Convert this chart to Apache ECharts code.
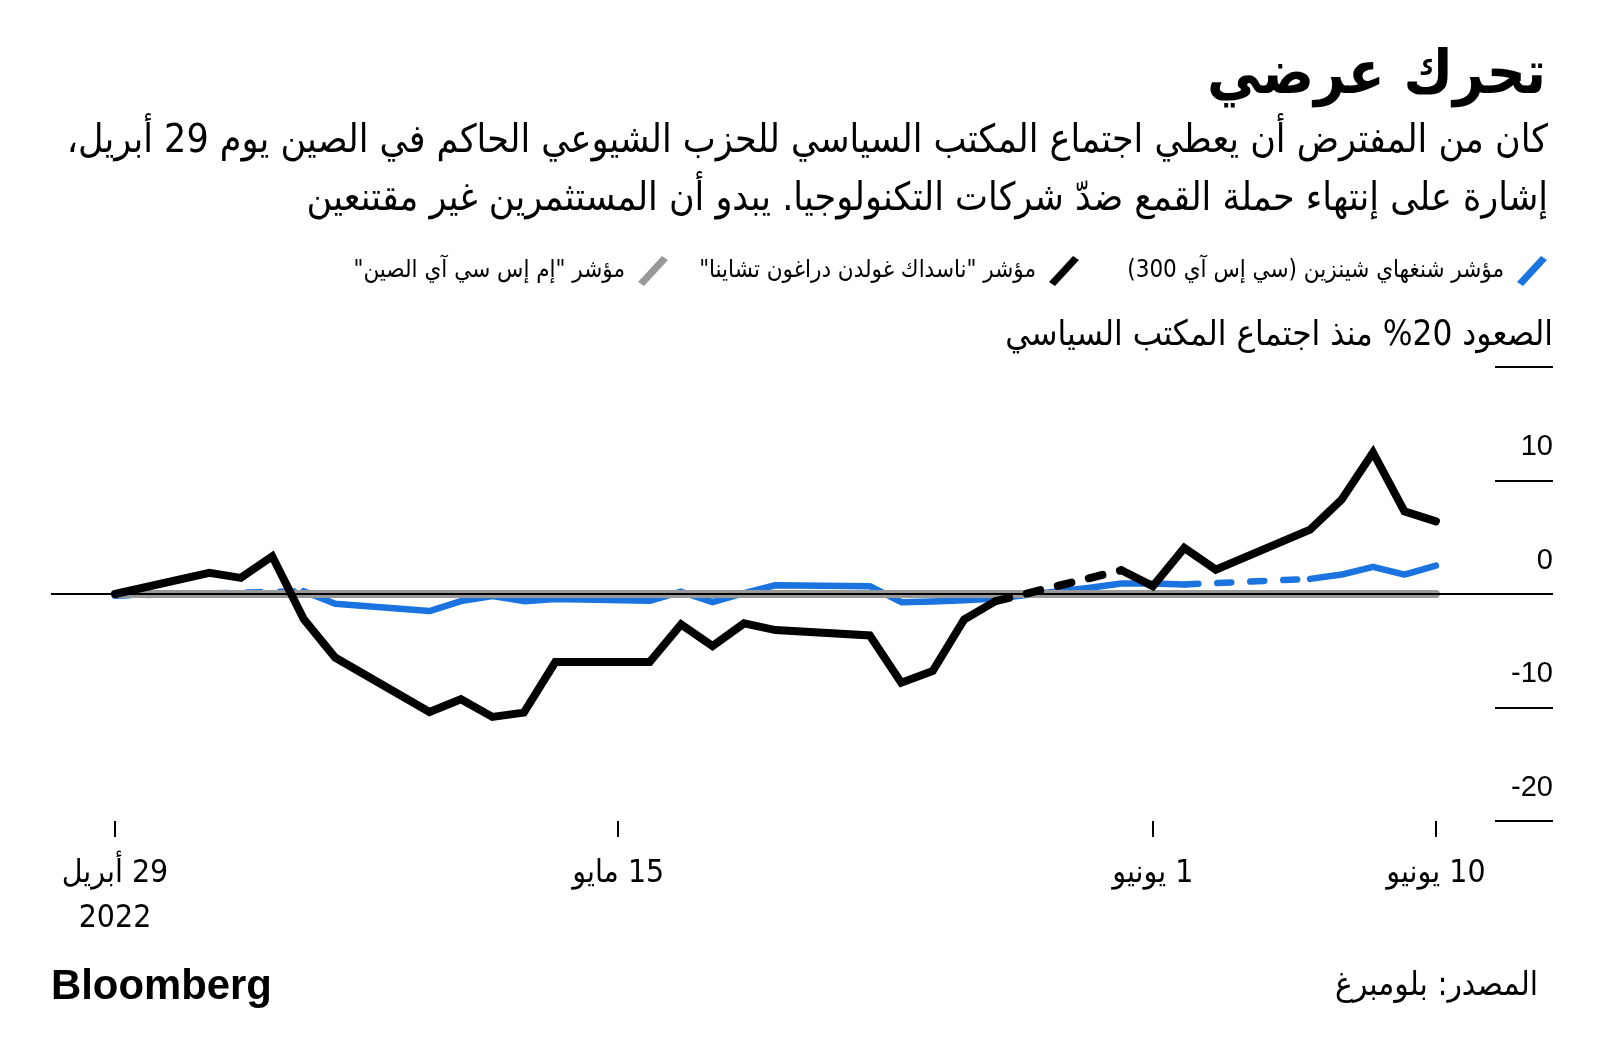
<!DOCTYPE html>
<html><head><meta charset="utf-8">
<script src="https://cdn.jsdelivr.net/npm/echarts@6/dist/echarts.min.js"></script>
<style>html,body{margin:0;padding:0;background:#fff}#c{width:1600px;height:1062px}</style>
</head><body><div id="c"></div><script>
// ---------- data ----------
const usDates = ['2022-04-29','2022-05-02','2022-05-03','2022-05-04','2022-05-05','2022-05-06','2022-05-09','2022-05-10','2022-05-11','2022-05-12','2022-05-13','2022-05-16','2022-05-17','2022-05-18','2022-05-19','2022-05-20','2022-05-23','2022-05-24','2022-05-25','2022-05-26','2022-05-27','2022-05-31','2022-06-01','2022-06-02','2022-06-03','2022-06-06','2022-06-07','2022-06-08','2022-06-09','2022-06-10'];
const nasdaqGoldenDragon = [0, 1.86, 1.42, 3.32, -2.2, -5.6, -10.4, -9.27, -10.83, -10.45, -6.0, -6.0, -2.68, -4.59, -2.59, -3.18, -3.65, -7.81, -6.79, -2.24, -0.63, 2.09, 0.69, 4.06, 2.15, 5.67, 8.31, 12.47, 7.28, 6.4];
const usHolidayGapsAfter = ['2022-05-27'];

const cnDates = ['2022-04-29','2022-05-05','2022-05-06','2022-05-09','2022-05-10','2022-05-11','2022-05-12','2022-05-13','2022-05-16','2022-05-17','2022-05-18','2022-05-19','2022-05-20','2022-05-23','2022-05-24','2022-05-25','2022-05-26','2022-05-27','2022-05-30','2022-05-31','2022-06-01','2022-06-02','2022-06-06','2022-06-07','2022-06-08','2022-06-09','2022-06-10'];
const csi300 = [-0.15, 0.25, -0.85, -1.5, -0.63, -0.19, -0.63, -0.45, -0.6, 0.2, -0.72, 0.07, 0.77, 0.69, -0.72, -0.66, -0.55, -0.4, 0.55, 0.92, 0.92, 0.84, 1.33, 1.71, 2.39, 1.71, 2.5];
const cnHolidayGapsAfter = ['2022-04-29','2022-06-02'];

const msciDates = ['2022-04-29','2022-06-10'];
const msciChina = [0, 0];

const xTickDates = ['2022-04-29','2022-05-15','2022-06-01','2022-06-10'];
const xTickLabels = ['29 أبريل\n2022','15 مايو','1 يونيو','10 يونيو'];
const yTickValues = [-20, -10, 0, 10, 20];
const yTickLabels = ['-20', '-10', '0', '10', ''];

const nameCSI = 'مؤشر شنغهاي شينزين (سي إس آي 300)';
const nameNGD = 'مؤشر "ناسداك غولدن دراغون تشاينا"';
const nameMSCI = 'مؤشر "إم إس سي آي الصين"';
const titleText = 'تحرك عرضي';
const subLine1 = 'كان من المفترض أن يعطي اجتماع المكتب السياسي للحزب الشيوعي الحاكم في الصين يوم 29 أبريل،';
const subLine2 = 'إشارة على إنتهاء حملة القمع ضدّ شركات التكنولوجيا. يبدو أن المستثمرين غير مقتنعين';
const yTitle = 'الصعود 20% منذ اجتماع المكتب السياسي';
const sourceText = 'المصدر: بلومبرغ';

// ---------- helpers ----------
const BASE = Date.UTC(2022, 3, 29);
function dayOf(s){ const p = s.split('-').map(Number); return (Date.UTC(p[0], p[1]-1, p[2]) - BASE) / 86400000; }
const rtl = s => s.split('\n').map(l => /[\u0600-\u06FF]/.test(l) ? '\u200F' + l + '\u200F' : l).join('\n');
function build(dates, vals, gaps){
  const solid = [], dashed = [];
  dates.forEach((d, i) => {
    solid.push([dayOf(d), vals[i]]);
    if (gaps.indexOf(d) >= 0 && i + 1 < dates.length) {
      solid.push([(dayOf(d) + dayOf(dates[i+1])) / 2, '-']);
      if (dashed.length) dashed.push([(dayOf(d)), '-']);
      dashed.push([dayOf(d), vals[i]], [dayOf(dates[i+1]), vals[i+1]]);
    }
  });
  return {solid, dashed};
}
const ngd = build(usDates, nasdaqGoldenDragon, usHolidayGapsAfter);
const csi = build(cnDates, csi300, cnHolidayGapsAfter);
const msci = msciDates.map((d, i) => [dayOf(d), msciChina[i]]);
const xTickVals = xTickDates.map(dayOf);
const xLabelMap = {}; xTickVals.forEach((v, i) => xLabelMap[v] = rtl(xTickLabels[i]));

const AR = '"DejaVu Sans Condensed", "DejaVu Sans", sans-serif';
const LAT = '"Liberation Sans", Arial, sans-serif';
const mctx = document.createElement('canvas').getContext('2d');
function fit(text, weight, family, target){ mctx.font = weight + ' 100px ' + family; return 100 * target / mctx.measureText(text).width; }

// layout (px)
const PX_PER_DAY = 31.45, X0 = 115, GL = 51, GR = 1553;
const xMin = (GL - X0) / PX_PER_DAY, xMax = (GR - X0) / PX_PER_DAY;

const fsTitle = fit(titleText, 'bold', AR, 339);
const fsSub = fit(subLine1, 'normal', AR, 1482);
const fsYT = fit(yTitle, 'normal', AR, 548);
const fsSrc = fit(sourceText, 'normal', AR, 203);
const fsLogo = fit('Bloomberg', 'bold', LAT, 221);
const fsLeg = fit(nameCSI, 'normal', AR, 377);
const fsX = fit('15 مايو', 'normal', AR, 92);

const slash = 'path://M0,26 L24,0 L30,4 L6,30 Z';
const legendCommon = {orient:'horizontal', align:'right', top: 251, itemWidth: 30, itemHeight: 30, icon: slash, selectedMode: false,
  itemStyle: {borderWidth: 0}, formatter: n => rtl(n),
  textStyle: {fontSize: fsLeg, fontFamily: AR, color: '#000', padding: [0, 8, 0, 0]}};

const BLUE = '#1a73de', GRAY = '#999999', BLACK = '#000000';

const option = {
  animation: false,
  backgroundColor: '#fff',
  grid: {left: GL, right: 1600 - GR, top: 367, bottom: 1062 - 821},
  legend: [
    Object.assign({}, legendCommon, {data: [nameCSI], right: 48}),
    Object.assign({}, legendCommon, {data: [nameNGD], right: 516}),
    Object.assign({}, legendCommon, {data: [nameMSCI], right: 927})
  ],
  xAxis: {type: 'value', min: xMin, max: xMax,
    axisLine: {show: false, onZero: false}, splitLine: {show: false},
    axisTick: {show: true, customValues: xTickVals, length: 16, lineStyle: {color: '#000', width: 2}},
    axisLabel: {show: true, customValues: xTickVals, formatter: v => xLabelMap[v] || '', margin: 30,
      fontSize: fsX, fontFamily: AR, color: '#000', lineHeight: 45}},
  yAxis: {type: 'value', position: 'right', min: -20, max: 20, interval: 10,
    axisLine: {show: false, onZero: false}, splitLine: {show: false},
    axisTick: {show: true, inside: true, length: 58, lineStyle: {color: '#000', width: 2}},
    axisLabel: {inside: true, margin: 0, formatter: v => yTickLabels[yTickValues.indexOf(v)] || '',
      fontSize: 29, fontFamily: LAT, color: '#000', verticalAlign: 'bottom', lineHeight: 29, padding: [0, 0, 19, 0]}},
  series: [
    {type: 'line', name: 'csi-dash', data: csi.dashed, symbol: 'none', silent: true, z: 1,
      lineStyle: {color: BLUE, width: 6.5, type: [14, 19], cap: 'round'},
      markLine: {silent: true, symbol: 'none', label: {show: false}, lineStyle: {color: '#000', width: 2, type: 'solid'}, data: [{yAxis: 0}]}},
    {type: 'line', name: nameCSI, data: csi.solid, symbol: 'none', z: 2, itemStyle: {color: BLUE},
      lineStyle: {color: BLUE, width: 6.5, cap: 'round', join: 'round'}},
    {type: 'line', name: nameMSCI, data: msci, symbol: 'none', z: 3, itemStyle: {color: GRAY},
      lineStyle: {color: GRAY, width: 8, cap: 'round'}},
    {type: 'line', name: 'ngd-dash', data: ngd.dashed, symbol: 'none', silent: true, z: 4,
      lineStyle: {color: BLACK, width: 8, type: [14, 18], cap: 'round'}},
    {type: 'line', name: nameNGD, data: ngd.solid, symbol: 'none', z: 4, itemStyle: {color: BLACK},
      lineStyle: {color: BLACK, width: 8, cap: 'round', join: 'miter'}}
  ],
  graphic: [
    {type: 'text', z: 10, style: {text: rtl(titleText), x: 1546, y: 77, align: 'right', verticalAlign: 'middle', fontSize: fsTitle, fontWeight: 'bold', fontFamily: AR, fill: '#000'}},
    {type: 'text', z: 10, style: {text: rtl(subLine1), x: 1548, y: 142, align: 'right', verticalAlign: 'middle', fontSize: fsSub, fontFamily: AR, fill: '#000'}},
    {type: 'text', z: 10, style: {text: rtl(subLine2), x: 1548, y: 200, align: 'right', verticalAlign: 'middle', fontSize: fsSub, fontFamily: AR, fill: '#000'}},
    {type: 'text', z: 10, style: {text: rtl(yTitle), x: 1553, y: 336, align: 'right', verticalAlign: 'middle', fontSize: fsYT, fontFamily: AR, fill: '#000'}},
    {type: 'text', z: 10, style: {text: rtl(sourceText), x: 1538, y: 986, align: 'right', verticalAlign: 'middle', fontSize: fsSrc, fontFamily: AR, fill: '#000'}},
    {type: 'text', z: 10, style: {text: 'Bloomberg', x: 51, y: 987, align: 'left', verticalAlign: 'middle', fontSize: fsLogo, fontWeight: 'bold', fontFamily: LAT, fill: '#000'}}
  ]
};
const chart = echarts.init(document.getElementById('c'), null, {renderer: 'canvas', width: 1600, height: 1062});
chart.setOption(option);
</script></body></html>
